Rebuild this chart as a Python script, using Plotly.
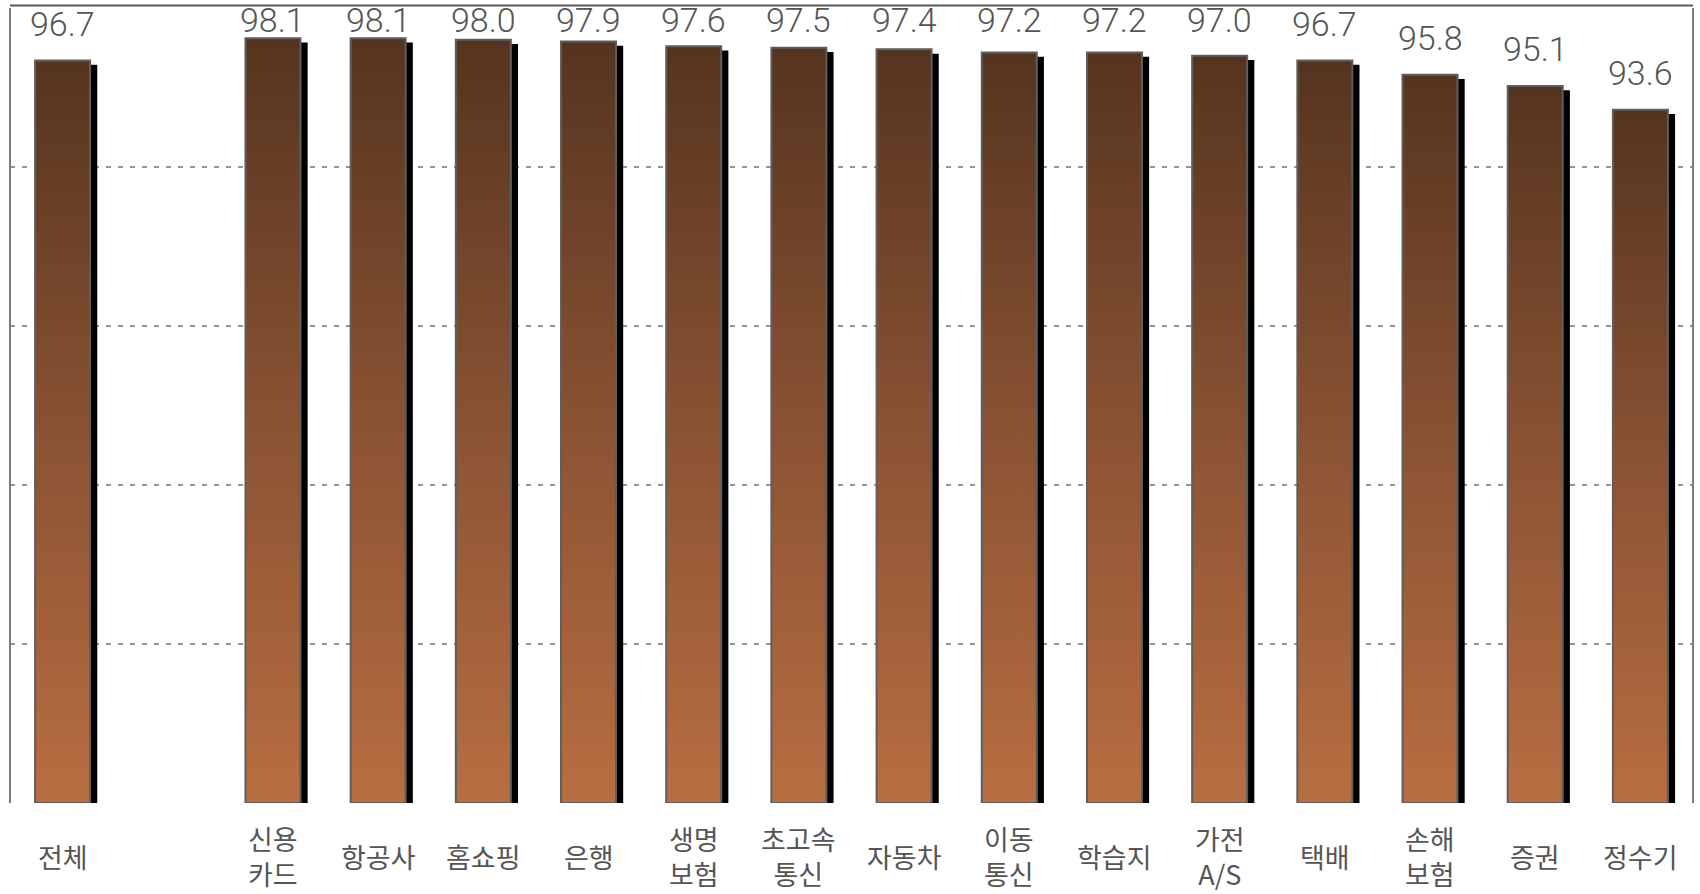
import plotly.graph_objects as go

# Satisfaction scores by industry (전체 = overall average)
categories = ["전체", "신용<br>카드", "항공사", "홈쇼핑", "은행", "생명<br>보험", "초고속<br>통신",
              "자동차", "이동<br>통신", "학습지", "가전<br>A/S", "택배", "손해<br>보험", "증권", "정수기"]
scores = [96.7, 98.1, 98.1, 98.0, 97.9, 97.6, 97.5, 97.4, 97.2, 97.2, 97.0, 96.7, 95.8, 95.1, 93.6]

Y_MIN, Y_MAX = 50, 100
BAR_W = 0.523
SHADOW_DX = 0.068
SHADOW_DY = 0.27
LABEL_PAD = 0.94
LABEL_CAP = 97.86

# overall bar sits apart from the industries: leave one empty slot after it
slots = [0] + list(range(2, len(categories) + 1))

fig = go.Figure()

# drop shadows behind each bar
fig.add_trace(go.Bar(
    x=slots,
    y=[v - Y_MIN - SHADOW_DY for v in scores],
    base=Y_MIN,
    width=BAR_W,
    offset=-BAR_W / 2 + SHADOW_DX,
    marker=dict(color="#000000", line=dict(width=0)),
    hoverinfo="skip",
    showlegend=False,
))

# gradient-filled bars
for s, v in zip(slots, scores):
    x0, x1 = s - BAR_W / 2, s + BAR_W / 2
    fig.add_trace(go.Scatter(
        x=[x0, x0, x1, x1, x0],
        y=[Y_MIN, v, v, Y_MIN, Y_MIN],
        mode="lines",
        fill="toself",
        fillgradient=dict(
            type="vertical",
            colorscale=[[0, "#b86e41"], [0.5, "#8a5233"], [1, "#55341f"]],
        ),
        line=dict(color="#5e5e5e", width=2),
        hoverinfo="skip",
        showlegend=False,
    ))

annotations = []
for s, v in zip(slots, scores):
    annotations.append(dict(
        x=s, y=min(v + LABEL_PAD, LABEL_CAP), xref="x", yref="y",
        text=f"{v:.1f}", showarrow=False, yanchor="bottom", xanchor="center",
        font=dict(family="Roboto, sans-serif", size=34, color="#555555", weight=300),
    ))
for s, c in zip(slots, categories):
    annotations.append(dict(
        x=s, y=-0.067, xref="x", yref="paper",
        text=c, showarrow=False, yanchor="middle", xanchor="center",
        font=dict(family="Noto Sans CJK KR", size=27, color="#555555"),
    ))

shapes = [
    dict(type="line", xref="paper", yref="paper", x0=0, x1=0, y0=0, y1=1,
         line=dict(color="#7a7a7a", width=2)),
    dict(type="line", xref="paper", yref="paper", x0=1, x1=1, y0=0, y1=1,
         line=dict(color="#7a7a7a", width=2)),
    dict(type="line", xref="paper", yref="paper", x0=0, x1=1, y0=1.003, y1=1.003,
         line=dict(color="#5a5a5a", width=2)),
]

fig.update_layout(
    width=1700, height=894,
    margin=dict(l=10, r=7, t=8, b=91),
    paper_bgcolor="#ffffff", plot_bgcolor="#ffffff",
    showlegend=False,
    annotations=annotations,
    shapes=shapes,
    xaxis=dict(range=[-0.5, len(categories) + 0.5], showticklabels=False, showgrid=False,
               zeroline=False, showline=False, ticks=""),
    yaxis=dict(range=[Y_MIN, Y_MAX], tick0=Y_MIN, dtick=10, showticklabels=False,
               showgrid=True, gridcolor="#959595", gridwidth=2, griddash="5px,7px",
               zeroline=False, showline=False, ticks=""),
)

fig.write_html("out.html")
